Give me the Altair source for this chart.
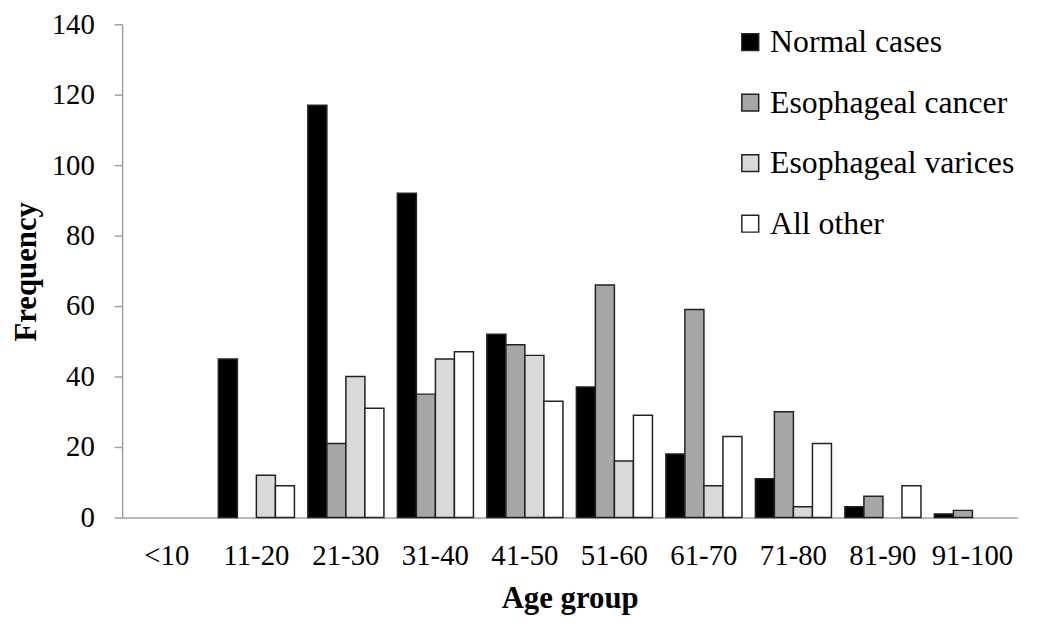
import altair as alt
import pandas as pd

age_groups = ["<10", "11-20", "21-30", "31-40", "41-50", "51-60", "61-70", "71-80", "81-90", "91-100"]
series = ["Normal cases", "Esophageal cancer", "Esophageal varices", "All other"]
normal = [0, 45, 117, 92, 52, 37, 18, 11, 3, 1]
cancer = [0, 0, 21, 35, 49, 66, 59, 30, 6, 2]
varices = [0, 12, 40, 45, 46, 16, 9, 3, 0, 0]
other = [0, 9, 31, 47, 33, 29, 23, 21, 9, 0]
colors = ["#000000", "#a6a6a6", "#d9d9d9", "#ffffff"]

rows = []
for s, vals in zip(series, [normal, cancer, varices, other]):
    for g, v in zip(age_groups, vals):
        if v > 0:
            rows.append({"Age group": g, "Series": s, "Frequency": v})
df = pd.DataFrame(rows)

FONT = "Liberation Serif"

chart = alt.Chart(df).mark_bar(stroke="#222222", strokeWidth=1.5).encode(
    x=alt.X("Age group:N", sort=age_groups,
            scale=alt.Scale(domain=age_groups, paddingInner=0.15, paddingOuter=0.075),
            axis=alt.Axis(title="Age group", labelAngle=0, ticks=False, tickSize=0,
                          labelPadding=47, labelBaseline="alphabetic",
                          titleY=91, titleBaseline="alphabetic")),
    xOffset=alt.XOffset("Series:N", sort=series, scale=alt.Scale(domain=series, paddingInner=0, paddingOuter=0)),
    y=alt.Y("Frequency:Q", scale=alt.Scale(domain=[0, 140], nice=False),
            axis=alt.Axis(title="Frequency", values=list(range(0, 141, 20)), grid=False,
                          tickSize=8, labelPadding=20, titleX=-96, titleY=249,
                          titleBaseline="middle", titleAngle=-90)),
    color=alt.Color("Series:N", sort=series,
                    scale=alt.Scale(domain=series, range=colors),
                    legend=alt.Legend(title=None, orient="none", legendX=617, legendY=2,
                                      symbolType="square", symbolSize=289,
                                      symbolStrokeColor="#222222", symbolStrokeWidth=1.5,
                                      symbolOpacity=1,
                                      labelFontSize=32, labelFont=FONT, labelColor="black",
                                      labelOffset=4, rowPadding=29, padding=0,
                                      labelLimit=400)),
).properties(
    width=902, height=497,
    autosize=alt.AutoSizeParams(type="none"),
    padding={"left": 115, "top": 14, "right": 25, "bottom": 100},
).configure_view(stroke=None).configure_axis(
    domainColor="#a0a0a0", domainWidth=1.5, tickColor="#a0a0a0", tickWidth=1.5,
    labelFont=FONT, labelFontSize=29, labelColor="black",
    titleFont=FONT, titleFontSize=31, titleFontWeight="bold", titleColor="black",
)

chart.save("out.html", embed_options={"renderer": "svg", "actions": False})
